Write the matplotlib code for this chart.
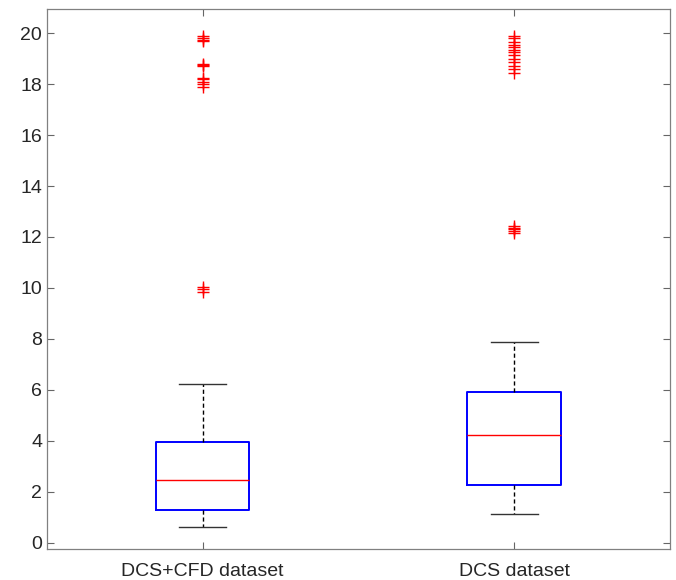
import matplotlib
matplotlib.use("Agg")
import matplotlib.pyplot as plt

plt.rcParams['font.family'] = ['Liberation Sans', 'DejaVu Sans']

categories = ["DCS+CFD dataset", "DCS dataset"]
q1 = [1.30, 2.25]
median = [2.45, 4.22]
q3 = [3.94, 5.92]
whisker_low = [0.63, 1.14]
whisker_high = [6.23, 7.89]
outliers = [
    [9.85, 9.95, 10.02, 17.9, 18.0, 18.1, 18.2, 18.25, 18.7, 18.75, 18.8, 19.7, 19.75, 19.8, 19.9],
    [12.15, 12.25, 12.3, 12.35, 12.45, 18.45, 18.6, 18.7, 18.85, 19.0, 19.15, 19.25,
     19.35, 19.45, 19.55, 19.65, 19.8, 19.9],
]
yticks = [0, 2, 4, 6, 8, 10, 12, 14, 16, 18, 20]

fig = plt.figure(figsize=(6.76, 5.80), dpi=100)
ax = fig.add_axes([0.0695, 0.0534, 0.9215, 0.9311])

stats = []
for i in range(len(categories)):
    stats.append(dict(label=categories[i], q1=q1[i], med=median[i], q3=q3[i],
                      whislo=whisker_low[i], whishi=whisker_high[i], fliers=outliers[i]))

ax.bxp(stats, positions=[1, 2], widths=0.3, showfliers=True,
       boxprops=dict(color='#0000ff', linewidth=1.4),
       medianprops=dict(color='#ff0000', linewidth=1.0),
       whiskerprops=dict(color='black', linewidth=1.0, linestyle=(0, (3, 2))),
       capprops=dict(color='#333333', linewidth=1.0),
       capwidths=0.15,
       flierprops=dict(marker='+', markeredgecolor='#ff0000', markersize=9,
                       markeredgewidth=1.0, linestyle='none'))

ax.set_xlim(0.5, 2.5)
ax.set_ylim(-0.25, 20.95)
ax.set_yticks(yticks)
ax.set_xticks([1, 2])
ax.set_xticklabels(categories)
ax.tick_params(axis='both', direction='in', length=5, width=0.8, color='#666666',
               labelsize=14, labelcolor='#262626', right=True, top=True)
ax.tick_params(axis='x', pad=10)
for s in ax.spines.values():
    s.set_color('#808080')
    s.set_linewidth(0.9)

fig.savefig("out.png", dpi=100, facecolor='white')
